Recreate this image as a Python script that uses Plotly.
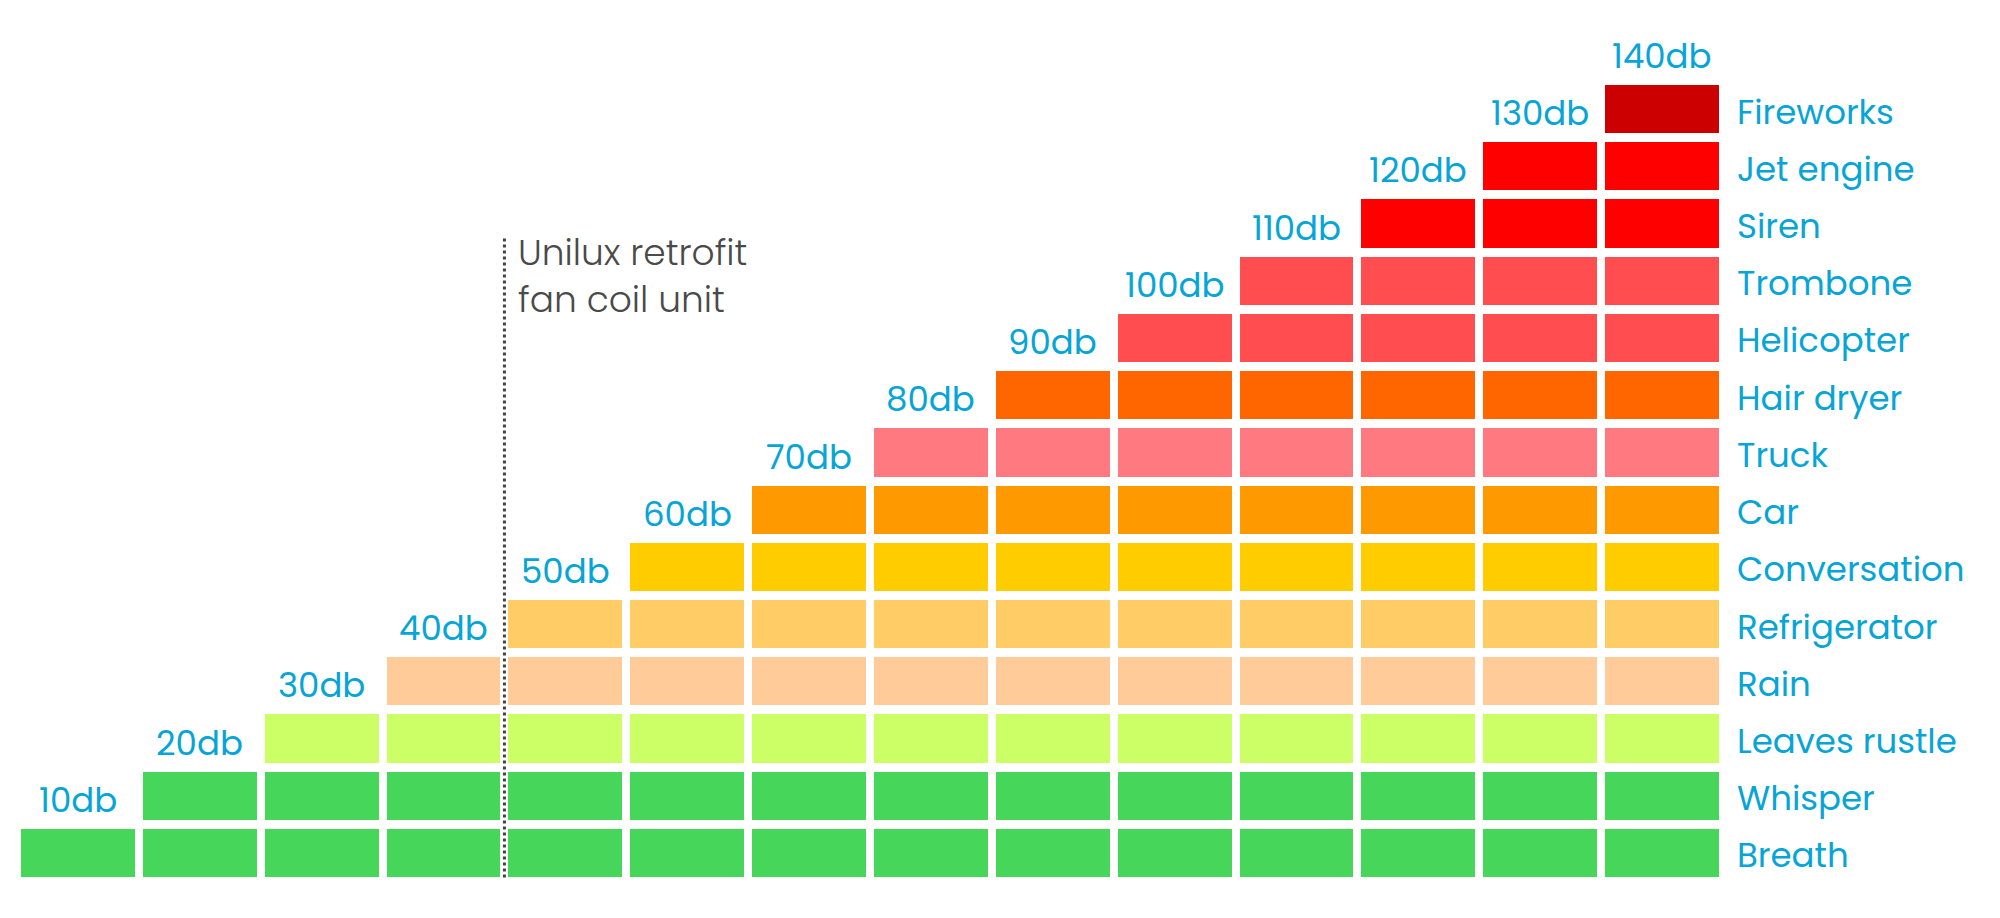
import plotly.graph_objects as go

# ---- data ----
sources = ["Breath", "Whisper", "Leaves rustle", "Rain", "Refrigerator", "Conversation",
           "Car", "Truck", "Hair dryer", "Helicopter", "Trombone", "Siren", "Jet engine", "Fireworks"]
levels_db = [10, 20, 30, 40, 50, 60, 70, 80, 90, 100, 110, 120, 130, 140]
level_labels = [f"{v}db" for v in levels_db]
row_colors = ["#46d65a", "#46d65a", "#ccff66", "#ffcc99", "#ffcc66", "#ffcc00",
              "#ff9900", "#ff7a80", "#ff6600", "#ff4d50", "#ff4d50", "#ff0000", "#ff0000", "#cc0000"]
unit_label = "Unilux retrofit<br>fan coil unit"

# ---- build matrix: column c (level) filled up to row c ----
n = len(levels_db)
cols = list(range(n))
rows = list(range(len(sources)))
z = [[(r if r <= c else None) for c in cols] for r in rows]

colorscale = []
for i, col in enumerate(row_colors):
    lo = max(0.0, (i - 0.5) / (n - 1))
    hi = min(1.0, (i + 0.5) / (n - 1))
    colorscale.append([lo, col])
    colorscale.append([hi, col])

BLUE = "#07a5d7"
FONT = "Poppins, Lato, sans-serif"

fig = go.Figure()
fig.add_trace(go.Heatmap(
    x=cols, y=rows, z=z, zmin=0, zmax=n - 1,
    colorscale=colorscale, showscale=False, xgap=8, ygap=9,
    hoverinfo="skip",
))

# column labels above each column
for c, lab in zip(cols, level_labels):
    fig.add_annotation(x=c, y=c + 0.5, text=lab, showarrow=False,
                       xref="x", yref="y", xanchor="center", yanchor="bottom", yshift=-1,
                       font=dict(family=FONT, size=34, color=BLUE))

# row labels on the right
for r, name in zip(rows, sources):
    fig.add_annotation(x=n - 0.5, y=r, text=name, showarrow=False,
                       xref="x", yref="y", xanchor="left", yanchor="middle",
                       xshift=12, yshift=-2,
                       font=dict(family=FONT, size=34, color=BLUE))

# dividing dotted line for the unit
unit_x = (levels_db.index(40) + levels_db.index(50)) / 2
fig.add_shape(type="line", xref="x", yref="y", x0=unit_x, x1=unit_x, y0=-0.42, y1=10.8,
              line=dict(color="#444444", width=3, dash="dot"))
fig.add_annotation(x=unit_x, y=10.8, text=unit_label, showarrow=False, xref="x", yref="y",
                   xanchor="left", yanchor="top", xshift=12, yshift=10, align="left",
                   font=dict(family=FONT, size=36, color="#4a4a4a", weight=300))

fig.update_xaxes(range=[-0.5, n - 0.5], visible=False, fixedrange=True)
fig.update_yaxes(range=[-0.5, len(sources) - 0.5], visible=False, fixedrange=True)

fig.update_layout(
    width=2000, height=918, autosize=False,
    margin=dict(l=17, r=277, t=81, b=36),
    paper_bgcolor="white", plot_bgcolor="white", showlegend=False,
)

fig.write_html("out.html")
